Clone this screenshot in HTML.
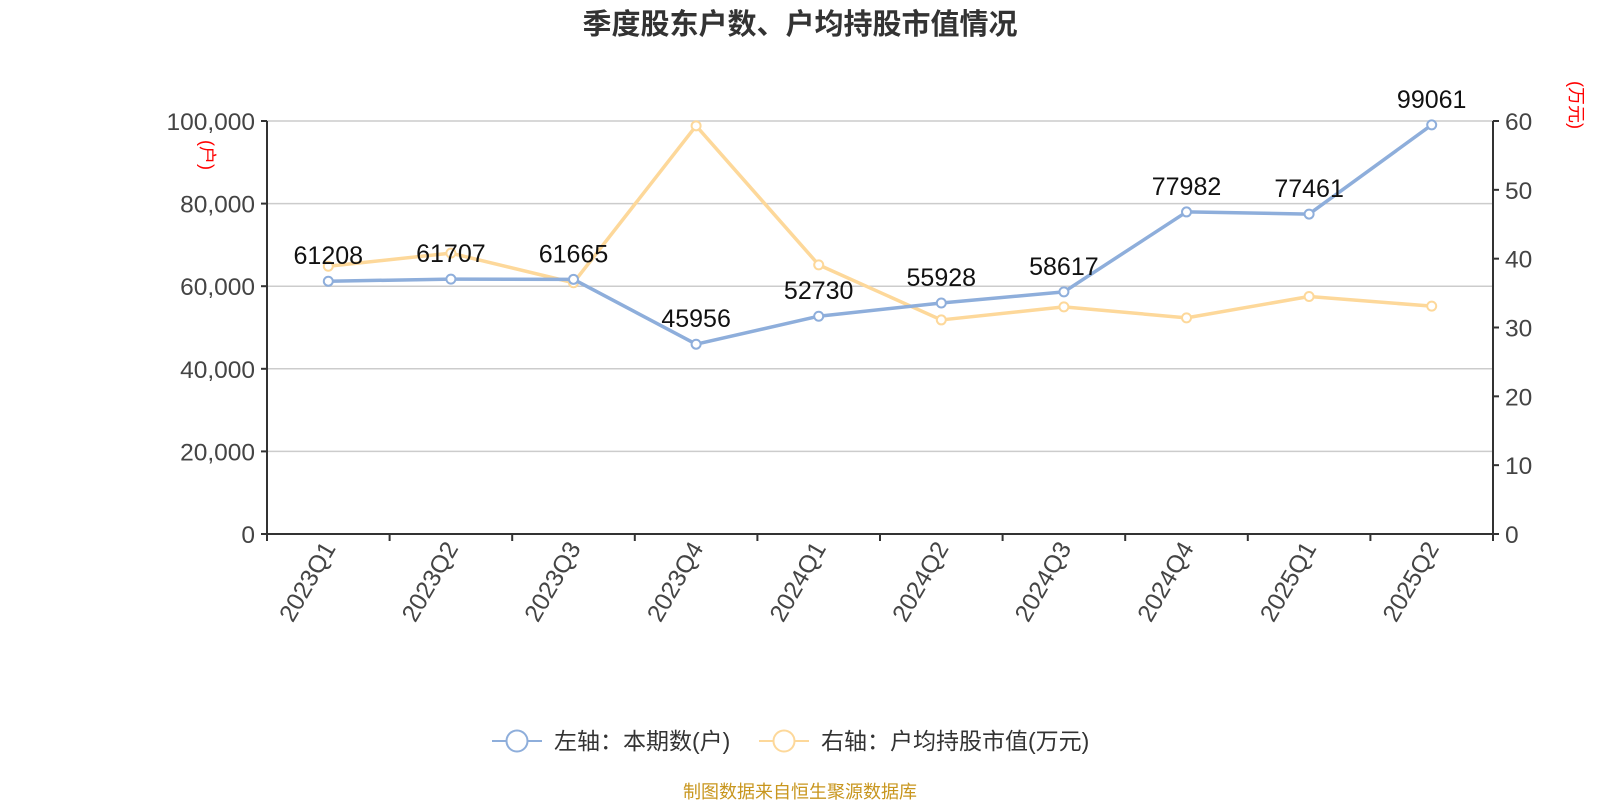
<!DOCTYPE html>
<html><head><meta charset="utf-8"><style>body{margin:0;background:#fff}svg{font-family:"Liberation Sans","Noto Sans CJK SC",sans-serif}</style></head>
<body>
<svg id="c" width="1600" height="800">
<text x="800" y="34" text-anchor="middle" font-size="29" font-weight="bold" fill="#333">季度股东户数、户均持股市值情况</text>
<g id="grid"></g><g id="axes"></g><g id="series"></g>
<text transform="translate(201,155) rotate(90)" text-anchor="middle" font-size="18" fill="red">(户)</text>
<text transform="translate(1570,105) rotate(90)" text-anchor="middle" font-size="18" fill="red">(万元)</text>
<g>
<g><line x1="492" y1="741" x2="542" y2="741" stroke="#8eaedb" stroke-width="2"/><circle cx="517" cy="741" r="10.5" fill="#fff" stroke="#8eaedb" stroke-width="2"/><text x="554" y="749" font-size="23" fill="#333">左轴：本期数(户)</text></g>
<g><line x1="759" y1="741" x2="809" y2="741" stroke="#fdd89a" stroke-width="2"/><circle cx="784" cy="741" r="10.5" fill="#fff" stroke="#fdd89a" stroke-width="2"/><text x="821" y="749" font-size="23" fill="#333">右轴：户均持股市值(万元)</text></g>
</g>
<text x="800" y="798" text-anchor="middle" font-size="18" fill="#c8961e">制图数据来自恒生聚源数据库</text>
</svg>
<script>
const categories=["2023Q1","2023Q2","2023Q3","2023Q4","2024Q1","2024Q2","2024Q3","2024Q4","2025Q1","2025Q2"];
const households=[61208,61707,61665,45956,52730,55928,58617,77982,77461,99061];
const avgValue=[38.9,40.8,36.5,59.3,39.1,31.1,33.0,31.4,34.5,33.1];
const leftTicks=[0,20000,40000,60000,80000,100000];
const rightTicks=[0,10,20,30,40,50,60];
const NS="http://www.w3.org/2000/svg";
const L=267,R=1493,T=121,B=534;
const step=(R-L)/categories.length;
const x=i=>L+step*(i+0.5);
const yl=v=>B-(v/100000)*(B-T);
const yr=v=>B-(v/60)*(B-T);
function mk(tag,attrs,parent,text){const e=document.createElementNS(NS,tag);for(const k in attrs)e.setAttribute(k,attrs[k]);if(text!==undefined)e.textContent=text;parent.appendChild(e);return e;}
const grid=document.getElementById('grid'),axes=document.getElementById('axes'),ser=document.getElementById('series');
leftTicks.forEach(v=>{
 if(v>0){const g=mk('line',{x1:L,x2:R,y1:yl(v),y2:yl(v),stroke:'#ccc','stroke-width':1.5},grid);
 
 }
 mk('line',{x1:L-6,x2:L,y1:yl(v),y2:yl(v),stroke:'#333','stroke-width':2},axes);
 const t=mk('text',{x:L-12,y:yl(v)+9,'text-anchor':'end','font-size':24.5,fill:'#444'},axes,v.toLocaleString('en-US'));
 
 
});
rightTicks.forEach(v=>{
 mk('line',{x1:R,x2:R+6,y1:yr(v),y2:yr(v),stroke:'#333','stroke-width':2},axes);
 const t=mk('text',{x:R+12,y:yr(v)+9,'font-size':24.5,fill:'#444'},axes,String(v));
 
 
});
mk('line',{x1:L,x2:L,y1:T,y2:B,stroke:'#333','stroke-width':2},axes);
mk('line',{x1:R,x2:R,y1:T,y2:B,stroke:'#333','stroke-width':2},axes);
mk('line',{x1:L,x2:R,y1:B,y2:B,stroke:'#333','stroke-width':2},axes);
for(let i=0;i<=categories.length;i++)mk('line',{x1:L+step*i,x2:L+step*i,y1:B,y2:B+7,stroke:'#333','stroke-width':2},axes);
categories.forEach((c,i)=>{
 const t=mk('text',{transform:`translate(${x(i)+8},${B+14}) rotate(-60)`,'text-anchor':'end','font-size':24.5,fill:'#444'},axes,c);
 
 
});
function line(vals,fy,color,name){
 const p=mk('polyline',{points:vals.map((v,i)=>x(i)+','+fy(v)).join(' '),fill:'none',stroke:color,'stroke-width':3.5,'stroke-linejoin':'round'},ser);
 
 
 vals.forEach((v,i)=>{
  const c=mk('circle',{cx:x(i),cy:fy(v),r:4.5,fill:'#fff',stroke:color,'stroke-width':2},ser);
  
  
 });
}
line(avgValue,yr,'#fdd89a','avg-value');
line(households,yl,'#8eaedb','households');
households.forEach((v,i)=>{
 const t=mk('text',{x:x(i),y:yl(v)-17,'text-anchor':'middle','font-size':25,fill:'#111'},ser,String(v));
 
 
});
</script>
</body></html>
